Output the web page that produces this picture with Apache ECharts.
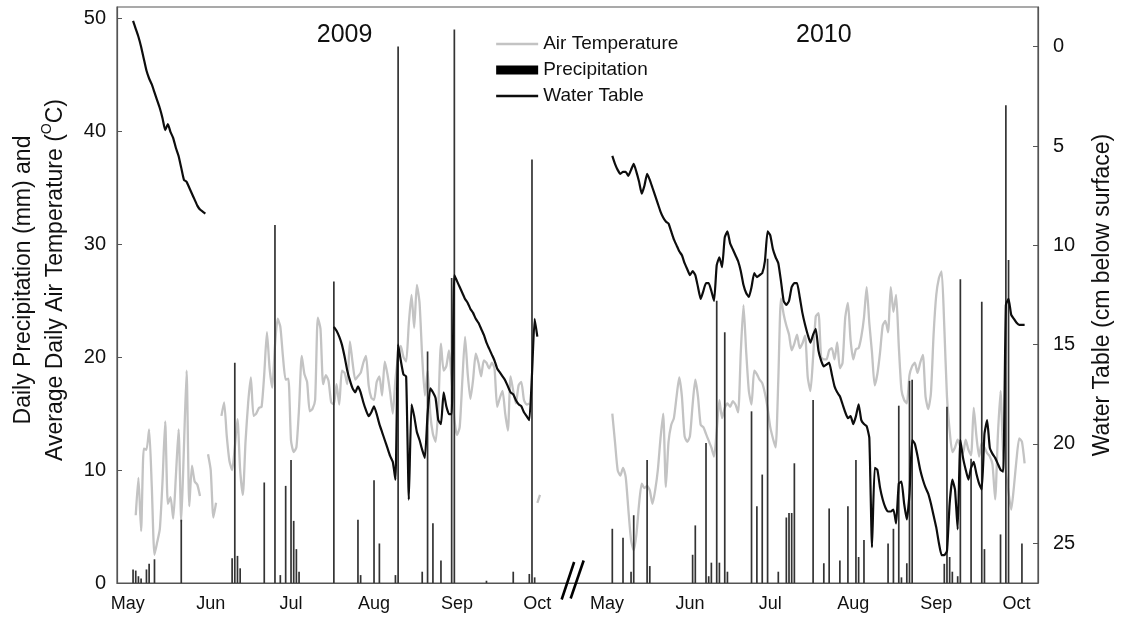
<!DOCTYPE html>
<html>
<head>
<meta charset="utf-8">
<script src="https://cdn.jsdelivr.net/npm/echarts@6/dist/echarts.min.js"></script>
<style>
  html, body { margin: 0; padding: 0; background: #fff; }
  #chart { width: 1123px; height: 620px; }
</style>
</head>
<body>
<div id="chart"></div>
<script>
// Day index on the shared x axis: 0 = 1 May 2009, SEASON_2010 = 1 May 2010
const SEASON_2010 = 179;
const monthDays = [0, 31, 61, 92, 123, 153];
const monthNames = ['May', 'Jun', 'Jul', 'Aug', 'Sep', 'Oct'];
const yearLabels = ['2009', '2010'];
const leftTicks = [0, 10, 20, 30, 40, 50];
const rightTicks = [0, 5, 10, 15, 20, 25];

// Average daily air temperature (°C), one value per day from the start day
const temp2009Start = 3;
const temp2009 = [6.0, 9.3, 4.6, 11.9, 11.8, 13.6, 8.5, 2.5, 3.6, 4.8, 9.0, 14.3, 7.0, 7.6, 5.7, 9.5, 13.6, 5.4, 12.0, 18.8,
  6.8, 10.4, 9.0, 8.7, 7.7, null, null, 11.4, 10.0, 5.8, 7.1, null, 14.8, 16.0, 13.0, 10.8, 10.0, 12.0, 14.5, 10.0,
  7.8, 12.5, 16.0, 18.2, 14.8, 15.0, 15.5, 15.6, 18.5, 22.2, 19.0, 17.3, 21.0, 23.4, 22.7, 20.0, 18.0, 18.1, 12.6, 11.6,
  12.0, 15.5, 20.1, 18.5, 17.8, 15.2, 15.4, 16.2, 23.5, 22.5, 17.6, 18.4, 17.9, 16.0, 15.8, 17.6, 15.8, 18.8, 18.6, 17.6,
  21.4, 19.5, 18.0, 18.3, 18.6, 19.5, 20.1, 17.5, 16.4, 16.2, 17.8, 18.3, 16.6, 19.6, 18.5, 16.9, 15.0, 18.0, 20.0, 21.0,
  20.0, 19.6, 23.0, 25.5, 22.6, 26.4, 24.8, 20.0, 16.6, 18.8, 15.0, 13.2, 12.5, 15.5, 21.2, 18.8, 19.2, 20.6, 18.0, 14.5,
  13.1, 13.8, 18.0, 21.8, 18.5, 16.3, 18.0, 20.3, 19.5, 18.3, 19.7, 19.5, 19.0, 19.5, 19.0, 15.6, 16.4, 17.0, 15.0, 13.5,
  18.3, 17.0, 15.9, 17.5, 17.8, 16.2, 15.8, 15.9, null, null, 7.1, 7.8];
const temp2010Start = 2;
const temp2010 = [15.0, 12.5, 10.0, 9.5, 10.2, 9.4, 6.5, 3.8, 2.9, 4.3, 7.0, 8.8, 8.4, 8.6, 8.2, 7.0, 8.2, 10.0, 12.8, 15.0,
  8.5, 12.5, 14.0, 14.6, 16.5, 18.2, 16.5, 13.0, 12.5, 13.0, 15.8, 18.0, 16.5, 14.0, 13.8, 13.2, 12.6, 12.0, 11.2, 13.5,
  16.2, 14.6, 15.5, 15.9, 15.6, 16.1, 15.8, 15.1, 20.5, 24.6, 20.5, 17.0, 15.8, 18.8, 18.5, 18.0, 17.7, 16.8, 15.5, 13.8,
  12.8, 12.0, 18.0, 25.2, 23.8, 22.8, 22.0, 20.6, 21.2, 22.0, 20.8, 21.2, 21.9, 18.2, 17.0, 20.0, 23.6, 23.9, 20.0, 19.8,
  19.8, 20.6, 20.8, 19.8, 21.3, 19.0, 19.5, 23.5, 24.8, 21.5, 19.8, 20.7, 20.8, 21.8, 23.5, 26.2, 23.0, 20.4, 17.5, 18.5,
  20.4, 22.8, 23.2, 22.2, 26.2, 24.0, 25.5, 21.0, 17.1, 16.2, 15.9, 18.4, 19.2, 19.5, 18.6, 19.5, 20.2, 16.5, 15.4, 16.8,
  22.0, 25.5, 27.0, 27.6, 22.7, 16.5, 13.5, 11.6, 12.0, 12.7, 12.0, 11.5, 12.7, 11.8, 11.3, 15.5, 13.0, 11.2, 12.4, 12.0,
  11.5, 11.2, 10.5, 7.4, 13.0, 17.0, 11.5, 9.8, 8.0, 6.5, 8.5, 11.0, 12.8, 12.5, 10.6];

// Water table depth (cm below surface)
const wt2009aStart = 2;
const wt2009a = [-1.3, -0.9, -0.5, 0.0, 0.6, 1.2, 1.6, 1.9, 2.3, 2.7, 3.1, 3.6, 4.2, 3.9, 4.3, 4.6, 5.1, 5.5, 6.1, 6.7,
  6.8, 7.1, 7.4, 7.7, 8.0, 8.2, 8.3, 8.4];
const wt2009bStart = 77;
const wt2009b = [14.1, 14.3, 14.6, 15.0, 15.6, 16.3, 16.8, 17.2, 17.4, 17.1, 17.4, 17.9, 18.3, 18.6, 18.4, 18.1, 18.5, 19.0, 19.4, 19.8,
  20.2, 20.6, 20.9, 21.8, 15.0, 15.8, 16.5, 16.6, 22.8, 18.0, 18.6, 19.4, 19.8, 20.3, 20.7, 18.5, 17.2, 17.4, 17.7, 18.8,
  19.0, 17.4, 18.1, 18.5, 18.5, 11.5, 11.8, 12.1, 12.4, 12.7, 12.9, 13.2, 13.4, 13.7, 13.9, 14.2, 14.5, 14.9, 15.2, 15.5,
  15.8, 16.2, 16.4, 16.6, 16.8, 17.1, 17.4, 17.5, 17.8, 18.0, 18.1, 18.4, 18.6, 18.8, 16.5, 13.7, 14.6];
const wt2010Start = 2;
const wt2010 = [5.5, 5.9, 6.2, 6.4, 6.3, 6.3, 6.5, 6.2, 5.9, 6.3, 6.8, 7.4, 7.0, 6.4, 6.7, 7.1, 7.5, 7.9, 8.3, 8.6,
  8.8, 8.9, 9.3, 9.7, 10.0, 10.3, 10.5, 10.9, 11.2, 11.5, 11.3, 11.5, 12.1, 12.7, 12.3, 11.9, 11.9, 12.3, 12.8, 11.0,
  10.6, 11.1, 9.6, 9.3, 9.9, 10.2, 10.5, 10.8, 11.3, 12.0, 12.4, 12.6, 12.1, 11.4, 11.6, 11.5, 11.4, 10.8, 9.3, 9.5,
  10.2, 10.6, 10.9, 11.8, 12.8, 13.0, 12.8, 12.1, 11.9, 11.9, 12.6, 13.4, 14.0, 14.5, 14.9, 14.5, 14.2, 15.3, 15.8, 16.1,
  16.0, 15.9, 16.5, 17.1, 17.4, 17.6, 18.0, 18.4, 18.7, 18.6, 19.0, 18.6, 18.0, 18.8, 19.0, 19.1, 19.7, 25.2, 21.2, 21.3,
  22.2, 22.8, 23.2, 23.4, 23.4, 23.3, 24.0, 22.0, 21.9, 23.0, 23.8, 22.5, 19.8, 20.0, 20.6, 21.3, 21.8, 22.2, 22.5, 23.0,
  23.6, 24.2, 25.0, 25.6, 25.6, 25.4, 23.0, 21.8, 22.3, 24.3, 19.8, 20.7, 21.3, 21.8, 21.2, 20.9, 21.5, 22.0, 22.3, 19.5,
  18.8, 20.2, 20.5, 20.7, 21.0, 21.3, 21.4, 13.0, 12.7, 13.5, 13.7, 13.9, 14.0, 14.0, 14.0];

// Daily precipitation (mm): day of season and amount
const precip2009Days = [2, 3, 4, 5, 7, 8, 10, 20, 39, 40, 41, 42, 51, 55, 57, 59, 61, 62, 63, 64,
  77, 86, 87, 92, 94, 100, 101, 110, 112, 114, 117, 121, 122, 134, 144, 150, 151, 152];
const precip2009 = [1.2, 1.1, 0.6, 0.4, 1.2, 1.7, 2.1, 5.6, 2.2, 19.5, 2.4, 1.3, 8.9, 31.7, 0.7, 8.6, 10.9, 5.5, 3.0, 1.0,
  26.7, 5.6, 0.7, 9.1, 3.5, 0.7, 47.5, 1.0, 20.5, 5.3, 2.0, 27.0, 49.0, 0.2, 1.0, 0.8, 37.5, 0.5];
const precip2010Days = [2, 6, 9, 10, 15, 16, 32, 33, 37, 38, 39, 41, 42, 44, 45, 54, 56, 58, 60, 64,
  67, 68, 69, 70, 77, 81, 83, 87, 90, 93, 94, 96, 105, 107, 109, 110, 112, 113, 114, 126,
  127, 128, 129, 131, 132, 136, 140, 141, 147, 149, 150, 155];
const precip2010 = [4.8, 4.0, 1.0, 6.0, 10.9, 1.5, 2.5, 5.1, 12.4, 0.6, 1.8, 25.0, 1.8, 22.2, 1.0, 15.2, 6.8, 9.6, 28.7, 1.0,
  5.8, 6.2, 6.2, 10.6, 16.2, 1.75, 6.6, 2.0, 6.8, 10.9, 2.3, 3.8, 3.5, 4.8, 15.7, 0.5, 1.75, 17.9, 18.0, 1.7,
  15.6, 2.3, 1.0, 0.6, 26.9, 11.0, 24.9, 3.0, 4.3, 42.3, 28.6, 3.5];

const FONT = "'Liberation Sans', Arial, Helvetica, sans-serif";
const INK = '#111';
const FRAME = '#555';
const TEMP_GREY = '#c3c3c3';
const WT_BLACK = '#0d0d0d';

// Turn a run of daily values into [day, value] points; null leaves a gap
function dailyPoints(offset, start, values) {
  return values.map((v, i) => [offset + start + i, v == null ? '-' : v]);
}
function gapAfter(points) {
  const last = points[points.length - 1][0];
  return points.concat([[last + 0.5, '-']]);
}
function barPoints(offset, days, values) {
  return days.map((d, i) => [offset + d, values[i]]);
}

const tempData = gapAfter(dailyPoints(0, temp2009Start, temp2009))
  .concat(dailyPoints(SEASON_2010, temp2010Start, temp2010));
const wtData = gapAfter(dailyPoints(0, wt2009aStart, wt2009a))
  .concat(gapAfter(dailyPoints(0, wt2009bStart, wt2009b)))
  .concat(dailyPoints(SEASON_2010, wt2010Start, wt2010));
const precipData = barPoints(0, precip2009Days, precip2009)
  .concat(barPoints(SEASON_2010, precip2010Days, precip2010));

const monthTicks = monthDays.concat(monthDays.map(d => d + SEASON_2010));

const chart = echarts.init(document.getElementById('chart'), null, { renderer: 'canvas' });

// Legend entries for the two line series show a plain stroke only
const hiddenMarker = { color: 'rgba(0,0,0,0)', borderWidth: 0, opacity: 0 };

const option = {
  animation: false,
  backgroundColor: '#fff',
  textStyle: { fontFamily: FONT, color: INK },
  grid: {
    left: 117, right: 85, top: 7, bottom: 37,
    show: true, borderColor: FRAME, borderWidth: 1.2, backgroundColor: 'transparent'
  },
  legend: {
    orient: 'vertical',
    left: 490, top: 29,
    itemWidth: 42, itemHeight: 9, itemGap: 6,
    textStyle: { fontFamily: FONT, fontSize: 19, color: INK, lineHeight: 20 },
    data: [
      { name: 'Air Temperature', itemStyle: hiddenMarker, lineStyle: { color: TEMP_GREY, width: 2.3 } },
      { name: 'Precipitation', icon: 'rect', itemStyle: { color: '#000' } },
      { name: 'Water Table', itemStyle: hiddenMarker, lineStyle: { color: WT_BLACK, width: 2.3 } }
    ]
  },
  xAxis: {
    type: 'value',
    min: -4, max: 340,
    axisLine: { show: true, onZero: false, lineStyle: { color: FRAME, width: 1.2 } },
    axisTick: { show: false },
    splitLine: { show: false },
    axisLabel: {
      customValues: monthTicks,
      margin: 12,
      fontSize: 18, color: INK, fontFamily: FONT,
      formatter: v => {
        const d = v >= SEASON_2010 ? v - SEASON_2010 : v;
        return monthNames[monthDays.indexOf(d)];
      }
    }
  },
  yAxis: [
    {
      type: 'value',
      min: 0, max: 51,
      position: 'left',
      axisLine: { show: true, onZero: false, lineStyle: { color: FRAME, width: 1.2 } },
      axisTick: { show: true, inside: true, length: 5, customValues: leftTicks, lineStyle: { color: FRAME } },
      axisLabel: { customValues: leftTicks, margin: 11, fontSize: 20, color: INK, fontFamily: FONT },
      splitLine: { show: false },
      name: 'Daily Precipitation (mm) and\nAverage Daily Air Temperature ({s|O}C)',
      nameLocation: 'middle',
      nameRotate: 90,
      nameGap: 45,
      nameTextStyle: {
        fontSize: 23, lineHeight: 32, color: INK, fontFamily: FONT,
        padding: [0, 0, 0, 30],
        rich: { s: { fontSize: 14, lineHeight: 32, verticalAlign: 'top', color: INK, fontFamily: FONT, padding: [0, 0, 14, 0] } }
      }
    },
    {
      type: 'value',
      min: -2, max: 27,
      inverse: true,
      position: 'right',
      axisLine: { show: true, onZero: false, lineStyle: { color: FRAME, width: 1.2 } },
      axisTick: { show: true, inside: true, length: 5, customValues: rightTicks, lineStyle: { color: FRAME } },
      axisLabel: { customValues: rightTicks, margin: 15, fontSize: 20, color: INK, fontFamily: FONT },
      splitLine: { show: false },
      name: 'Water Table (cm below surface)',
      nameLocation: 'middle',
      nameRotate: 90,
      nameGap: 53,
      nameTextStyle: { fontSize: 23, color: INK, fontFamily: FONT }
    }
  ],
  series: [
    {
      name: 'Air Temperature',
      type: 'line',
      yAxisIndex: 0,
      data: tempData,
      symbol: 'none',
      smooth: 0.2,
      connectNulls: false,
      lineStyle: { color: TEMP_GREY, width: 2.3 },
      itemStyle: { color: TEMP_GREY },
      z: 2
    },
    {
      name: 'Precipitation',
      type: 'bar',
      yAxisIndex: 0,
      data: precipData,
      barWidth: 1.7,
      itemStyle: { color: '#333' },
      z: 3
    },
    {
      name: 'Water Table',
      type: 'line',
      yAxisIndex: 1,
      data: wtData,
      symbol: 'none',
      smooth: 0.15,
      connectNulls: false,
      lineStyle: { color: WT_BLACK, width: 2.2 },
      itemStyle: { color: WT_BLACK },
      z: 4
    }
  ]
};

chart.setOption(option);

// Year captions above each season and the axis-break mark between the seasons
const toPx = (d, v) => chart.convertToPixel({ xAxisIndex: 0, yAxisIndex: 0 }, [d, v]);
const midSeason = 81;
const breakDay = 166;
const base = toPx(breakDay, 0);
const yearX = [toPx(midSeason, 0)[0], toPx(SEASON_2010 + midSeason, 0)[0]];

chart.setOption({
  graphic: [
    {
      type: 'text', x: yearX[0], y: 35,
      style: { text: yearLabels[0], fontSize: 25, fontFamily: FONT, fill: INK, align: 'center', verticalAlign: 'middle' }
    },
    {
      type: 'text', x: yearX[1], y: 35,
      style: { text: yearLabels[1], fontSize: 25, fontFamily: FONT, fill: INK, align: 'center', verticalAlign: 'middle' }
    },
    {
      type: 'line',
      shape: { x1: base[0] - 10.5, y1: base[1] + 16.5, x2: base[0] + 2, y2: base[1] - 21 },
      style: { stroke: '#000', lineWidth: 2.6 }, z: 10
    },
    {
      type: 'line',
      shape: { x1: base[0] - 1.5, y1: base[1] + 15.5, x2: base[0] + 11.5, y2: base[1] - 22.5 },
      style: { stroke: '#000', lineWidth: 2.6 }, z: 10
    }
  ]
});
</script>
</body>
</html>
